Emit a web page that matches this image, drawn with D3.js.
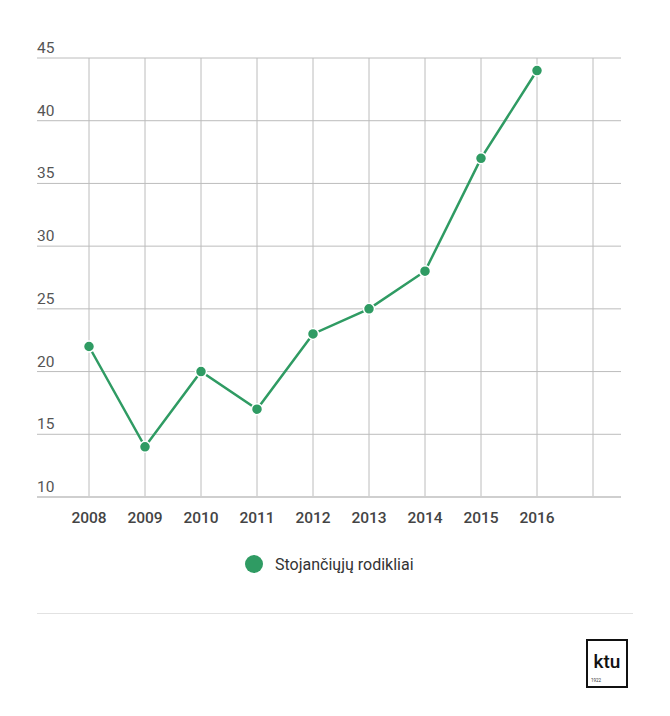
<!DOCTYPE html>
<html><head><meta charset="utf-8">
<script src="https://cdn.jsdelivr.net/npm/d3@7"></script>
<style>body{margin:0;background:#fff;font-family:Roboto,"Noto Sans",sans-serif;}</style>
</head><body>
<svg id="c" width="670" height="716"></svg>
<script>
const years = ["2008","2009","2010","2011","2012","2013","2014","2015","2016"];
const gridYears = ["2008","2009","2010","2011","2012","2013","2014","2015","2016","2017"];
const values = [22, 14, 20, 17, 23, 25, 28, 37, 44];
const yTicks = [10, 15, 20, 25, 30, 35, 40, 45];
const seriesName = "Stojančiųjų rodikliai";
const green = "#2f9b63";

const svg = d3.select("#c");
const x = d3.scalePoint().domain(gridYears).range([89, 593]);
const y = d3.scaleLinear().domain([10, 45]).range([497, 58]);
const left = 37, right = 621;

svg.append("g").selectAll("line").data(yTicks.filter(d => d > 10)).join("line")
  .attr("x1", left).attr("x2", right)
  .attr("y1", d => y(d)).attr("y2", d => y(d))
  .attr("stroke", "#bcbcbc").attr("stroke-width", 1);
svg.append("g").selectAll("line").data(gridYears).join("line")
  .attr("x1", d => x(d)).attr("x2", d => x(d))
  .attr("y1", y(45)).attr("y2", y(10))
  .attr("stroke", "#bcbcbc").attr("stroke-width", 1);
svg.append("line").attr("x1", left).attr("x2", right)
  .attr("y1", y(10)).attr("y2", y(10))
  .attr("stroke", "#cfcfcf").attr("stroke-width", 2);

svg.append("g").selectAll("text").data(yTicks).join("text")
  .attr("x", left).attr("y", d => y(d) - 5)
  .attr("font-size", 15.5).attr("fill", "#555")
  .text(d => d);
svg.append("g").selectAll("text").data(years).join("text")
  .attr("x", d => x(d)).attr("y", 523)
  .attr("text-anchor", "middle").attr("font-size", 15.5).attr("font-weight", 500)
  .attr("fill", "#444").text(d => d);

const pts = years.map((yr, i) => [x(yr), y(values[i])]);
svg.append("path").attr("d", d3.line()(pts))
  .attr("fill", "none").attr("stroke", green).attr("stroke-width", 2.5);
svg.append("g").selectAll("circle").data(pts).join("circle")
  .attr("cx", d => d[0]).attr("cy", d => d[1]).attr("r", 5.5)
  .attr("fill", green).attr("stroke", "#fff").attr("stroke-width", 1.5);

svg.append("circle").attr("cx", 254).attr("cy", 564).attr("r", 9).attr("fill", green);
svg.append("text").attr("x", 275).attr("y", 570).attr("font-size", 16)
  .attr("fill", "#333").text(seriesName);

svg.append("line").attr("x1", 37).attr("x2", 633).attr("y1", 613.5).attr("y2", 613.5)
  .attr("stroke", "#e2e2e2").attr("stroke-width", 1);

const lg = svg.append("g");
lg.append("rect").attr("x", 587).attr("y", 640).attr("width", 40).attr("height", 47)
  .attr("fill", "none").attr("stroke", "#111").attr("stroke-width", 2);
lg.append("text").attr("x", 607).attr("y", 668).attr("text-anchor", "middle")
  .attr("font-size", 19).attr("font-weight", 500).attr("fill", "#111").text("ktu");
lg.append("text").attr("x", 591).attr("y", 682).attr("font-size", 4.5)
  .attr("fill", "#333").text("1922");
</script>
</body></html>
